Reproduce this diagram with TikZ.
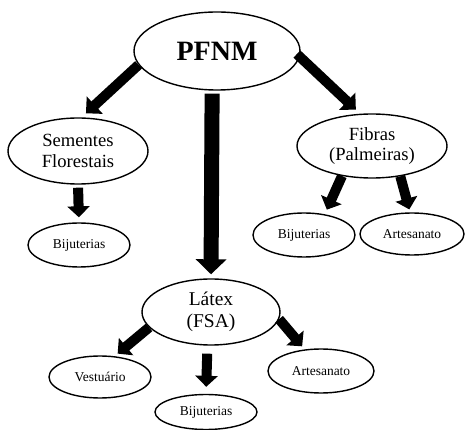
\documentclass[tikz,border=0pt]{standalone}
\usepackage{fontspec}
\setmainfont{Liberation Serif}
\usetikzlibrary{shapes.geometric,arrows.meta}
\begin{document}
\begin{tikzpicture}[x=1pt,y=-1pt,
  ell/.style={ellipse,draw,line width=1.4pt,inner sep=0pt,align=center},
  small/.style={font=\fontsize{13.5}{15}\selectfont},
  bigarrow/.style={line width=15pt,-{Triangle[width=30pt,length=15pt]}},
  midarrow/.style={line width=10pt,-{Triangle[width=23pt,length=12pt]}},
  smallarrow/.style={line width=10pt,-{Triangle[width=22pt,length=11pt]}}]
\useasboundingbox (0,0) rectangle (466,430);
\node[ell,minimum width=166pt,minimum height=78pt,font=\fontsize{28}{30}\selectfont\bfseries] (pfnm) at (217,51) {PFNM};
\node[ell,minimum width=140pt,minimum height=66pt,font=\fontsize{18.6}{20.5}\selectfont] (sem) at (78,151) {Sementes\\Florestais};
\node[ell,minimum width=150pt,minimum height=64pt,font=\fontsize{18.6}{20.5}\selectfont] (fib) at (372,146) {Fibras\\(Palmeiras)};
\node[ell,minimum width=138pt,minimum height=66pt,font=\fontsize{19.5}{22}\selectfont] (lat) at (211,312) {Látex\\(FSA)};
\node[ell,small,minimum width=102pt,minimum height=44pt] (bij1) at (79,245) {Bijuterias};
\node[ell,small,minimum width=102pt,minimum height=44pt] (bij2) at (304,235) {Bijuterias};
\node[ell,small,minimum width=104pt,minimum height=42pt] (art2) at (412,234) {Artesanato};
\node[ell,small,minimum width=102pt,minimum height=42pt] (vest) at (100,377) {Vestuário};
\node[ell,small,minimum width=102pt,minimum height=35pt] (bij3) at (206,412) {Bijuterias};
\node[ell,small,minimum width=106pt,minimum height=44pt] (art3) at (321,371) {Artesanato};
\draw[midarrow,shorten >=6pt] (pfnm.190) -- (sem.84);
\draw[midarrow,shorten <=-4pt,shorten >=6pt] (pfnm.356) -- (fib.110);
\draw[bigarrow,shorten <=3pt,shorten >=4pt] (pfnm.263) -- (lat.90);
\draw[smallarrow,shorten <=3pt,shorten >=5pt] (sem.270) -- (bij1.90);
\draw[smallarrow,shorten >=5pt] (fib.225) -- (bij2.45);
\draw[smallarrow,shorten >=3pt] (fib.313) -- (art2.95);
\draw[smallarrow,shorten >=4pt] (lat.194) -- (vest.55);
\draw[smallarrow,shorten <=8pt,shorten >=7pt] (lat.264) -- (bij3.90);
\draw[smallarrow,shorten >=4pt] (lat.354) -- (art3.127);
\end{tikzpicture}
\end{document}
